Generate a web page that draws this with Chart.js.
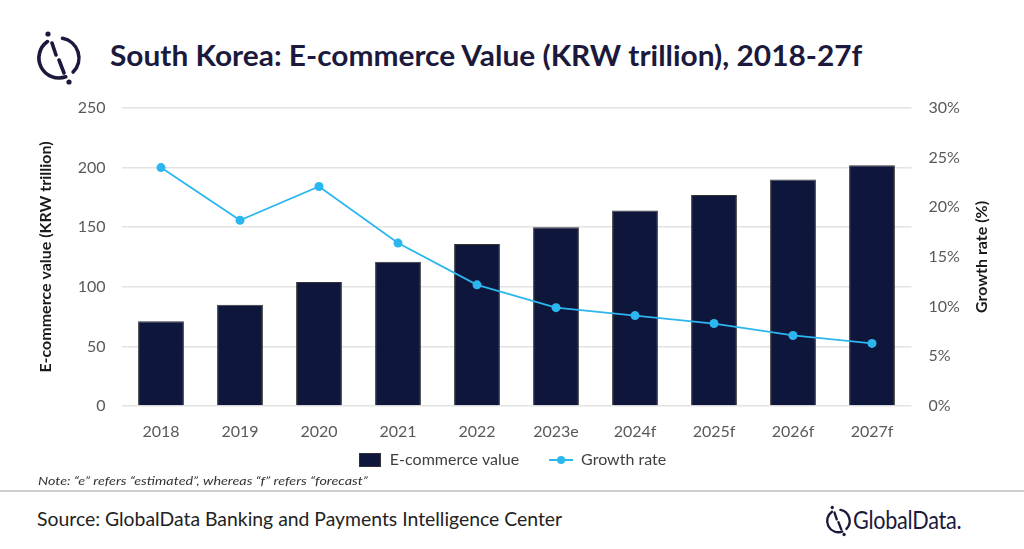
<!DOCTYPE html>
<html>
<head>
<meta charset="utf-8">
<script src="https://cdn.jsdelivr.net/npm/chart.js@4.4.0/dist/chart.umd.min.js"></script>
<style>
  body { margin: 0; width: 1024px; height: 549px; background: #fff; position: relative; overflow: hidden; font-family: Lato, sans-serif; }
  #title { position: absolute; left: 110px; top: 38px; font-size: 28px; font-weight: bold; color: #1b1a3d; white-space: nowrap; transform-origin: left center; }
  #box { position: absolute; left: 0; top: 90px; width: 1024px; height: 388px; }
  #note { position: absolute; left: 38px; top: 473px; font-size: 12px; font-style: italic; color: #333; white-space: nowrap; transform-origin: left center; }
  #rule { position: absolute; left: 0; top: 490px; width: 1024px; height: 2px; background: #cfcfcf; }
  #source { position: absolute; left: 37px; top: 507px; font-size: 19px; color: #222; white-space: nowrap; transform-origin: left center; }
  #brand { position: absolute; left: 853px; top: 504px; font-size: 25px; color: #1b1a3d; white-space: nowrap; transform-origin: left center; letter-spacing: -0.3px; }
  .logo { position: absolute; }
</style>
</head>
<body>
<svg class="logo" style="left:30px;top:26px" width="60" height="64" viewBox="0 0 60 64">
  <g fill="none" stroke="#1b1a3d" stroke-width="3.6" stroke-linecap="round">
    <path d="M17.5 15.6 A20 20 0 0 0 35.8 50.8"/>
    <path d="M32.5 12.3 A20 20 0 0 1 43.1 46.1"/>
    <path d="M22 17 L26 29"/>
    <path d="M29 34 L34 47"/>
  </g>
  <circle cx="18" cy="8" r="2.6" fill="#1b1a3d"/>
  <circle cx="39" cy="56" r="2.6" fill="#1b1a3d"/>
</svg>
<div id="title">South Korea: E-commerce Value (KRW trillion), 2018-27f</div>
<div id="box"><canvas id="myChart"></canvas></div>
<div id="note">Note: “e” refers “estimated”, whereas “f” refers “forecast”</div>
<div id="rule"></div>
<div id="source">Source: GlobalData Banking and Payments Intelligence Center</div>
<svg class="logo" style="left:822px;top:503px" width="34" height="36" viewBox="0 0 60 64">
  <g fill="none" stroke="#1b1a3d" stroke-width="4.2" stroke-linecap="round">
    <path d="M17.5 15.6 A20 20 0 0 0 35.8 50.8"/>
    <path d="M32.5 12.3 A20 20 0 0 1 43.1 46.1"/>
    <path d="M22 17 L26 29"/>
    <path d="M29 34 L34 47"/>
  </g>
  <circle cx="18" cy="8" r="3" fill="#1b1a3d"/>
  <circle cx="39" cy="56" r="3" fill="#1b1a3d"/>
</svg>
<div id="brand">GlobalData.</div>
<script>
/* DATA */
const years = ['2018', '2019', '2020', '2021', '2022', '2023e', '2024f', '2025f', '2026f', '2027f'];
const ecommerceValue = [71, 85, 104, 121, 136, 150, 164, 177, 190, 202];
const growthRate = [24.0, 18.7, 22.1, 16.4, 12.2, 9.9, 9.1, 8.3, 7.1, 6.3];
const valueTicks = [0, 50, 100, 150, 200, 250];
const rateTicks = [0, 5, 10, 15, 20, 25, 30];

const navy = '#0e163c';
const sky = '#2bb6ef';

/* squeeze text blocks to the widths of the original */
function fitWidth(id, w){
    let el = document.getElementById(id);
    el.style.transform = 'scaleX(' + (w / el.offsetWidth) + ')';
}
fitWidth('title', 752);
fitWidth('note', 330);
fitWidth('source', 525);
fitWidth('brand', 108);

/* legend symbols */
function barSymbol(){
    let c = document.createElement('canvas');
    c.width = 22; c.height = 14;
    let g = c.getContext('2d');
    g.fillStyle = '#333';
    g.fillRect(0, 0, 22, 14);
    g.fillStyle = navy;
    g.fillRect(1, 1, 20, 12);
    return c;
}
function lineSymbol(){
    let c = document.createElement('canvas');
    c.width = 24; c.height = 10;
    let g = c.getContext('2d');
    g.strokeStyle = sky;
    g.lineWidth = 2;
    g.beginPath(); g.moveTo(0, 5); g.lineTo(24, 5); g.stroke();
    g.fillStyle = sky;
    g.beginPath(); g.arc(12, 5, 4, 0, Math.PI * 2); g.fill();
    return c;
}
const symbols = [barSymbol(), lineSymbol()];
// extra space after the first legend entry
const legendGap = ['\u2003\u2002', ''];

const data = {
    labels: years,
    datasets: [{
        type: 'bar',
        label: 'E-commerce value',
        data: ecommerceValue,
        backgroundColor: navy,
        borderColor: '#333',
        borderWidth: 1,
        categoryPercentage: 1,
        barPercentage: 0.58,
        yAxisID: 'y',
        order: 2
    }, {
        type: 'line',
        label: 'Growth rate',
        data: growthRate,
        borderColor: sky,
        backgroundColor: sky,
        borderWidth: 1.8,
        pointRadius: 4.5,
        pointBorderWidth: 0,
        tension: 0,
        yAxisID: 'y1',
        order: 1
    }]
};

const tickFont = { family: 'Lato', size: 16 };
const xFont = { family: 'Lato', size: 16, lineHeight: 1 };
const titleFont = { family: 'Lato', size: 16, weight: 'bold' };

/* right axis title reads bottom-to-top like the left one */
const rightTitle = {
    id: 'rightTitle',
    afterDraw(chart){
        const ctx = chart.ctx;
        const area = chart.chartArea;
        ctx.save();
        ctx.translate(chart.width - 42, (area.top + area.bottom) / 2);
        ctx.rotate(-Math.PI / 2);
        ctx.font = 'bold 16px Lato';
        ctx.fillStyle = '#1a1a1a';
        ctx.textAlign = 'center';
        ctx.textBaseline = 'middle';
        ctx.fillText('Growth rate (%)', 0, 0);
        ctx.restore();
    }
};

function fixSide(w){
    return (s) => { s.width = w; s.paddingTop = 0; s.paddingBottom = 0; };
}

const config = {
    data,
    plugins: [rightTitle],
    options: {
        responsive: true,
        maintainAspectRatio: false,
        animation: false,
        layout: { padding: { top: 18, left: 0, right: 0, bottom: 0 } },
        plugins: {
            tooltip: { enabled: false },
            legend: {
                position: 'bottom',
                labels: {
                    font: tickFont,
                    color: '#404040',
                    usePointStyle: true,
                    pointStyleWidth: 24,
                    padding: 10,
                    generateLabels: (chart) => chart.data.datasets.map((ds, i) => ({
                        text: ds.label + legendGap[i],
                        datasetIndex: i,
                        pointStyle: symbols[i],
                        fontColor: '#404040',
                        hidden: false,
                        lineWidth: 0
                    }))
                }
            }
        },
        scales: {
            x: {
                grid: { display: false, drawTicks: false },
                border: { display: false },
                ticks: { font: xFont, color: '#595959', padding: 18 },
                afterFit: (s) => { s.height = 36; }
            },
            y: {
                position: 'left',
                min: valueTicks[0],
                max: valueTicks[valueTicks.length - 1],
                afterBuildTicks: (s) => { s.ticks = valueTicks.map(v => ({ value: v })); },
                grid: { color: '#e3e3e3', lineWidth: 1.5, drawTicks: false },
                border: { display: false },
                ticks: { font: tickFont, color: '#595959', padding: 16 },
                title: { display: true, text: 'E-commerce value (KRW trillion)', font: titleFont, color: '#1a1a1a', padding: { top: 36, bottom: 0 } },
                afterFit: fixSide(121.5)
            },
            y1: {
                position: 'right',
                min: rateTicks[0],
                max: rateTicks[rateTicks.length - 1],
                afterBuildTicks: (s) => { s.ticks = rateTicks.map(v => ({ value: v })); },
                grid: { drawOnChartArea: false, drawTicks: false },
                border: { display: false },
                ticks: { font: tickFont, color: '#595959', padding: 17, callback: (v) => v + '%' },
                afterFit: fixSide(112.5)
            }
        }
    }
};

let myChart = new Chart(
    document.getElementById('myChart'),
    config
);
</script>
</body>
</html>
